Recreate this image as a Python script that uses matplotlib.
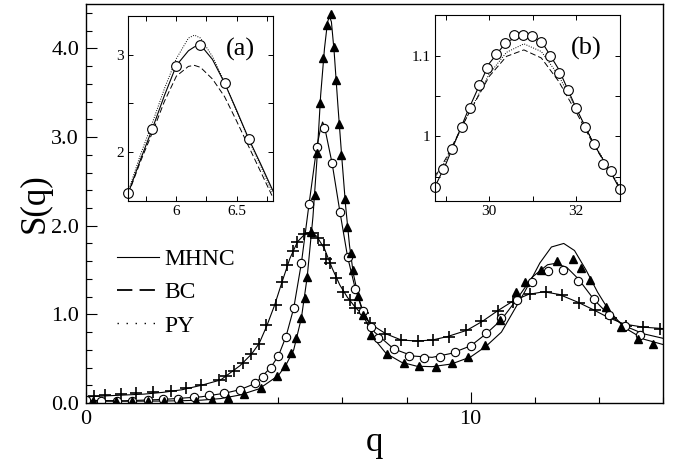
import matplotlib
matplotlib.use('Agg')
import matplotlib.pyplot as plt
from matplotlib.ticker import MultipleLocator, FormatStrFormatter

plt.rcParams['font.family'] = ['Liberation Serif', 'DejaVu Serif']

# main panel: symbols (simulation) for three systems
q_plus = [0.2, 0.5, 0.9, 1.3, 1.75, 2.2, 2.6, 3.0, 3.45, 3.65, 3.85, 4.07, 4.28, 4.49,
          4.69, 4.93, 5.1, 5.22, 5.38, 5.49, 5.67, 5.84, 6.03, 6.18, 6.25, 6.34, 6.49,
          6.69, 6.86, 6.99, 7.19, 7.38, 7.77, 8.18, 8.62, 9.02, 9.44, 9.87, 10.28,
          10.71, 11.10, 11.55, 11.97, 12.38, 12.81, 13.24, 13.64, 14.03, 14.49, 14.93]
s_plus = [0.08, 0.09, 0.10, 0.11, 0.125, 0.14, 0.165, 0.205, 0.26, 0.31, 0.36, 0.45,
          0.55, 0.67, 0.88, 1.11, 1.37, 1.56, 1.71, 1.82, 1.905, 1.92, 1.86, 1.78, 1.63,
          1.575, 1.41, 1.25, 1.16, 1.07, 1.01, 0.90, 0.78, 0.71, 0.70, 0.71, 0.75, 0.82,
          0.92, 1.04, 1.14, 1.23, 1.255, 1.22, 1.13, 1.05, 0.955, 0.87, 0.86, 0.84]

q_circ = [0.0, 0.4, 0.8, 1.2, 1.6, 2.0, 2.4, 2.8, 3.2, 3.6, 4.0, 4.4, 4.6, 4.8, 5.0,
          5.2, 5.4, 5.6, 5.8, 6.0, 6.2, 6.4, 6.6, 6.8, 7.0, 7.2, 7.4, 7.6, 8.0, 8.4,
          8.8, 9.2, 9.6, 10.0, 10.4, 10.8, 11.2, 11.6, 12.0, 12.4, 12.8, 13.2, 13.6,
          14.0, 14.4]
s_circ = [0.035, 0.026, 0.023, 0.026, 0.034, 0.042, 0.045, 0.064, 0.085, 0.112, 0.15,
          0.222, 0.297, 0.40, 0.53, 0.75, 1.075, 1.58, 2.24, 2.89, 3.10, 2.71, 2.15,
          1.65, 1.285, 1.035, 0.86, 0.73, 0.61, 0.53, 0.511, 0.522, 0.571, 0.643,
          0.786, 0.96, 1.165, 1.368, 1.49, 1.50, 1.375, 1.17, 0.992, 0.868, 0.772]

q_tri = [0.19, 0.78, 1.19, 1.62, 2.03, 2.44, 2.86, 3.28, 3.70, 4.12, 4.54, 4.97, 5.17,
         5.34, 5.47, 5.58, 5.69, 5.75, 5.86, 5.95, 6.01, 6.08, 6.16, 6.27, 6.36, 6.44,
         6.51, 6.57, 6.64, 6.73, 6.79, 6.88, 6.93, 7.07, 7.20, 7.42, 7.83, 8.26, 8.66,
         9.09, 9.52, 9.93, 10.36, 10.77, 11.19, 11.40, 11.84, 12.24, 12.66, 12.88,
         13.09, 13.51, 13.92, 14.35, 14.75]
s_tri = [0.023, 0.02, 0.02, 0.02, 0.02, 0.025, 0.028, 0.034, 0.06, 0.10, 0.17, 0.31,
         0.417, 0.567, 0.736, 0.955, 1.18, 1.42, 1.93, 2.35, 2.82, 3.38, 3.89, 4.26,
         4.39, 4.02, 3.64, 3.15, 2.80, 2.30, 1.99, 1.69, 1.50, 1.206, 0.99, 0.767,
         0.549, 0.454, 0.417, 0.41, 0.447, 0.522, 0.654, 0.936, 1.255, 1.37, 1.50,
         1.605, 1.625, 1.52, 1.387, 1.086, 0.856, 0.724, 0.665]

# main panel: MHNC curves
q_plus_line = [0, 0.5, 1, 1.5, 2, 2.5, 3, 3.5, 4, 4.3, 4.5, 4.7, 4.9, 5.1, 5.3, 5.5,
               5.7, 5.85, 6.0, 6.2, 6.4, 6.6, 6.8, 7.0, 7.2, 7.4, 7.8, 8.2, 8.6, 9.0,
               9.4, 9.9, 10.3, 10.7, 11.1, 11.5, 11.9, 12.3, 12.8, 13.2, 13.6, 14.0,
               14.5, 15.0]
s_plus_line = [0.07, 0.08, 0.09, 0.10, 0.12, 0.15, 0.2, 0.26, 0.42, 0.55, 0.67, 0.87,
               1.1, 1.37, 1.63, 1.82, 1.91, 1.93, 1.88, 1.74, 1.52, 1.33, 1.19, 1.08,
               0.99, 0.89, 0.78, 0.71, 0.70, 0.71, 0.75, 0.82, 0.92, 1.04, 1.15, 1.225,
               1.255, 1.225, 1.135, 1.05, 0.96, 0.89, 0.855, 0.84]

q_circ_line = [0, 1, 2, 3, 3.6, 4.0, 4.4, 4.8, 5.0, 5.2, 5.4, 5.6, 5.8, 6.0, 6.1, 6.15,
               6.2, 6.4, 6.6, 6.8, 7.0, 7.2, 7.5, 8.0, 8.5, 9.0, 9.5, 10.0, 10.4, 10.8,
               11.2, 11.6, 12.0, 12.2, 12.5, 12.8, 13.2, 13.6, 14.0, 14.5, 15.0]
s_circ_line = [0.03, 0.025, 0.04, 0.07, 0.11, 0.15, 0.22, 0.40, 0.53, 0.75, 1.07, 1.58,
               2.25, 2.89, 3.1, 3.17, 3.12, 2.7, 2.16, 1.65, 1.29, 1.04, 0.8, 0.61, 0.53,
               0.515, 0.56, 0.645, 0.78, 0.94, 1.17, 1.42, 1.56, 1.575, 1.53, 1.40, 1.17,
               0.99, 0.87, 0.78, 0.73]

q_tri_line = [0, 1, 2, 2.5, 3, 3.5, 4, 4.5, 5, 5.2, 5.4, 5.6, 5.75, 5.9, 6.0, 6.1, 6.2,
              6.28, 6.33, 6.38, 6.45, 6.55, 6.65, 6.75, 6.85, 6.95, 7.1, 7.25, 7.5, 7.8,
              8.2, 8.6, 9.0, 9.5, 10.0, 10.4, 10.8, 11.0, 11.4, 11.8, 12.1, 12.42, 12.7,
              13.0, 13.3, 13.6, 14.0, 14.5, 15.0]
s_tri_line = [0.02, 0.02, 0.022, 0.026, 0.032, 0.05, 0.09, 0.16, 0.31, 0.43, 0.6, 0.96,
              1.42, 2.1, 2.72, 3.47, 4.0, 4.3, 4.36, 4.3, 3.97, 3.35, 2.77, 2.22, 1.78,
              1.46, 1.16, 0.95, 0.72, 0.56, 0.46, 0.415, 0.41, 0.44, 0.52, 0.64, 0.8,
              0.95, 1.25, 1.58, 1.76, 1.80, 1.72, 1.5, 1.25, 1.04, 0.85, 0.72, 0.66]

# inset (a)
qa_pts = [5.6, 5.8, 6.0, 6.2, 6.4, 6.6]
sa_pts = [1.58, 2.24, 2.886, 3.10, 2.71, 2.14]
qa_line = [5.6, 5.7, 5.8, 5.9, 6.0, 6.1, 6.15, 6.2, 6.3, 6.4, 6.5, 6.6, 6.7, 6.8]
sa_mhnc = [1.58, 1.92, 2.24, 2.58, 2.89, 3.04, 3.08, 3.10, 2.95, 2.71, 2.43, 2.14, 1.88, 1.61]
sa_bc = [1.57, 1.90, 2.20, 2.52, 2.78, 2.88, 2.89, 2.87, 2.75, 2.57, 2.32, 2.06, 1.80, 1.54]
sa_py = [1.60, 1.97, 2.30, 2.65, 2.96, 3.17, 3.20, 3.17, 2.98, 2.72, 2.42, 2.13, 1.86, 1.58]

# inset (b)
qb_pts = [28.75, 28.94, 29.15, 29.37, 29.57, 29.77, 29.96, 30.17, 30.37, 30.57, 30.77,
          30.98, 31.19, 31.39, 31.60, 31.81, 32.0, 32.21, 32.42, 32.62, 32.81, 33.0]
sb_pts = [0.937, 0.960, 0.985, 1.011, 1.035, 1.063, 1.084, 1.102, 1.115, 1.126, 1.125,
          1.124, 1.117, 1.100, 1.078, 1.058, 1.035, 1.012, 0.990, 0.966, 0.957, 0.935]
qb_line = [28.75, 29.0, 29.5, 30.0, 30.4, 30.8, 31.2, 31.6, 32.0, 32.4, 32.8, 33.0]
sb_mhnc = [0.937, 0.965, 1.030, 1.090, 1.117, 1.126, 1.118, 1.083, 1.035, 0.991, 0.955, 0.935]
sb_bc = [0.950, 0.972, 1.025, 1.074, 1.099, 1.107, 1.097, 1.068, 1.030, 0.990, 0.955, 0.937]
sb_py = [0.948, 0.970, 1.025, 1.077, 1.104, 1.1145, 1.105, 1.075, 1.034, 0.992, 0.956, 0.937]

lw = 0.8

fig = plt.figure(figsize=(6.75, 4.59), dpi=100)
ax = fig.add_axes([0.1274, 0.122, 0.8548, 0.869])

ax.plot(q_plus_line, s_plus_line, 'k-', lw=lw)
ax.plot(q_circ_line, s_circ_line, 'k-', lw=lw)
ax.plot(q_tri_line, s_tri_line, 'k-', lw=lw)
ax.plot(q_plus, s_plus, 'k+', ms=9, mew=1.2, ls='none')
ax.plot(q_circ, s_circ, 'o', mfc='white', mec='k', ms=6, mew=0.8, ls='none')
ax.plot(q_tri, s_tri, 'k^', ms=5.5, ls='none')

ax.set_xlim(0, 15)
ax.set_ylim(0, 4.5)
ax.set_xticks([0, 10])
ax.xaxis.set_minor_locator(MultipleLocator(10 / 6))
ax.yaxis.set_major_locator(MultipleLocator(1))
ax.yaxis.set_minor_locator(MultipleLocator(0.2))
ax.yaxis.set_major_formatter(FormatStrFormatter('%.1f'))
ax.tick_params(direction='in', which='both', top=False, right=False, labelsize=16)
ax.tick_params(which='major', length=8, width=0.8, pad=5)
ax.tick_params(which='minor', length=4, width=0.8)
ax.set_xlabel('q', fontsize=25, labelpad=-2)
ax.set_ylabel('S(q)', fontsize=25, labelpad=0)
for s in ax.spines.values():
    s.set_linewidth(1.0)

# inset (a)
axa = fig.add_axes([0.190, 0.562, 0.214, 0.404])
axa.plot(qa_line, sa_py, 'k', ls=(0, (1, 1.5)), lw=0.7)
axa.plot(qa_line, sa_bc, 'k', ls=(0, (6, 3)), lw=0.7)
axa.plot(qa_line, sa_mhnc, 'k-', lw=lw)
axa.plot(qa_pts, sa_pts, 'o', mfc='white', mec='k', ms=7, mew=0.8, ls='none', clip_on=False)
axa.set_xlim(5.6, 6.8)
axa.set_ylim(1.5, 3.4)
axa.set_xticks([6, 6.5])
axa.set_xticklabels(['6', '6.5'])
axa.xaxis.set_minor_locator(MultipleLocator(0.25))
axa.set_yticks([2, 3])
axa.yaxis.set_minor_locator(MultipleLocator(0.5))
axa.tick_params(direction='in', which='both', top=True, right=True, labelsize=11,
                length=3.5, width=0.7, pad=3)
axa.text(0.78, 0.82, '(a)', transform=axa.transAxes, fontsize=19, ha='center', va='center')

# inset (b)
axb = fig.add_axes([0.644, 0.562, 0.274, 0.405])
axb.plot(qb_line, sb_py, 'k', ls=(0, (1, 1.5)), lw=0.7)
axb.plot(qb_line, sb_bc, 'k', ls=(0, (6, 3)), lw=0.7)
axb.plot(qb_line, sb_mhnc, 'k-', lw=lw)
axb.plot(qb_pts, sb_pts, 'o', mfc='white', mec='k', ms=7, mew=0.8, ls='none', clip_on=False)
axb.set_xlim(28.75, 33.0)
axb.set_ylim(0.92, 1.15)
axb.set_xticks([30, 32])
axb.xaxis.set_minor_locator(MultipleLocator(1))
axb.set_yticks([1, 1.1])
axb.set_yticklabels(['1', '1.1'])
axb.yaxis.set_minor_locator(MultipleLocator(0.05))
axb.tick_params(direction='in', which='both', top=True, right=True, labelsize=11,
                length=3.5, width=0.7, pad=3)
axb.text(0.82, 0.82, '(b)', transform=axb.transAxes, fontsize=19, ha='center', va='center')

# legend
h_mh = plt.Line2D([], [], color='k', lw=lw)
h_bc = plt.Line2D([], [], color='k', lw=1.3, ls=(0, (8.5, 4)))
h_py = plt.Line2D([], [], color='k', lw=1.0, ls=(0, (1, 5.5)))
ax.legend([h_mh, h_bc, h_py], ['MHNC', 'BC', 'PY'], loc='upper left',
          bbox_to_anchor=(0.034, 0.417), frameon=False, fontsize=17, handlelength=1.75,
          handletextpad=0.25, labelspacing=0.5, borderpad=0)

fig.savefig('out.png', dpi=100)
